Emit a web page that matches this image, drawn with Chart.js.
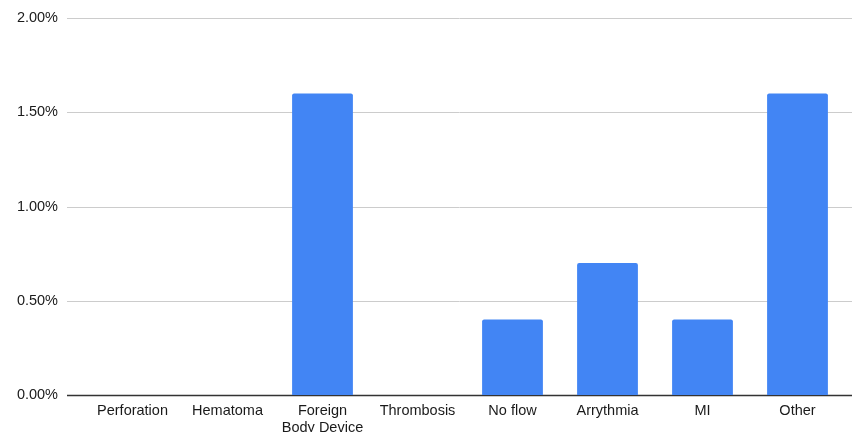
<!DOCTYPE html>
<html>
<head>
<meta charset="utf-8">
<script src="https://cdn.jsdelivr.net/npm/chart.js@4"></script>
<style>
  html, body { margin: 0; padding: 0; background: #fff; }
  canvas { display: block; }
</style>
</head>
<body>
<canvas id="chart" width="855" height="432"></canvas>
<script>
// Complication rates by type (percent)
const categories = ['Perforation', 'Hematoma', ['Foreign', 'Body Device'], 'Thrombosis', 'No flow', 'Arrythmia', 'MI', 'Other'];
const rates = [0, 0, 1.6, 0, 0.4, 0.7, 0.4, 1.6];
const yTicks = [0, 0.5, 1.0, 1.5, 2.0];

const textColor = '#1a1a1a';
const fontFamily = '"Liberation Sans", Arial, Helvetica, sans-serif';

// Horizontal gridlines span a bit wider than the category area
const wideGrid = {
  id: 'wideGrid',
  beforeDatasetsDraw(chart) {
    const y = chart.scales.y;
    const ctx = chart.ctx;
    ctx.save();
    y.ticks.forEach(t => {
      const py = Math.round(y.getPixelForValue(t.value)) + 0.5;
      ctx.beginPath();
      ctx.strokeStyle = t.value === 0 ? '#333333' : '#cccccc';
      ctx.lineWidth = t.value === 0 ? 1.5 : 1;
      ctx.moveTo(67, py);
      ctx.lineTo(852, py);
      ctx.stroke();
    });
    ctx.restore();
  }
};

new Chart(document.getElementById('chart'), {
  type: 'bar',
  data: {
    labels: categories,
    datasets: [{
      data: rates,
      backgroundColor: '#4285F4',
      borderRadius: 2,
      borderSkipped: 'bottom',
      categoryPercentage: 1,
      barPercentage: 0.64
    }]
  },
  options: {
    responsive: false,
    animation: false,
    devicePixelRatio: 1,
    layout: { padding: { top: 0, right: 10, left: 0, bottom: 0 } },
    plugins: { legend: { display: false }, tooltip: { enabled: false } },
    scales: {
      x: {
        grid: { display: false, drawTicks: false },
        border: { display: false },
        ticks: {
          color: textColor,
          font: { family: fontFamily, size: 14.5 },
          padding: 7,
          maxRotation: 0,
          autoSkip: false
        },
        afterFit(s) { s.height = 37; }
      },
      y: {
        min: 0,
        max: 2,
        afterBuildTicks(s) { s.ticks = yTicks.map(v => ({ value: v })); },
        grid: { display: false, drawTicks: false },
        border: { display: false },
        ticks: {
          color: textColor,
          font: { family: fontFamily, size: 14.5 },
          padding: 27,
          callback: v => v.toFixed(2) + '%'
        },
        afterFit(s) { s.width = 85; s.paddingTop = 18; }
      }
    }
  },
  plugins: [wideGrid]
});
</script>
</body>
</html>
